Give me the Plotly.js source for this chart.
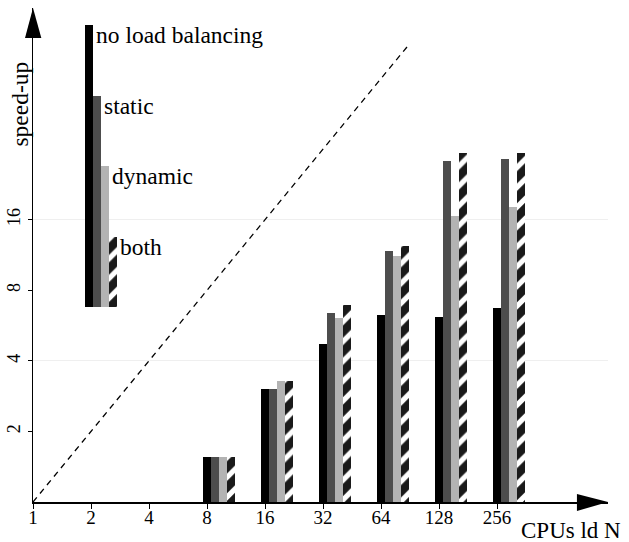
<!DOCTYPE html>
<html>
<head>
<meta charset="utf-8">
<script src="https://cdn.plot.ly/plotly-3.0.1.min.js"></script>
<style>
html,body{margin:0;padding:0;background:#fff;}
#chart{width:629px;height:542px;}
</style>
</head>
<body>
<div id="chart"></div>
<script>
// ---- data ----
const cpus = [8, 16, 32, 64, 128, 256];
const noLoadBalancing = [1.55, 3.04, 4.72, 6.29, 6.17, 6.69];
const staticLB = [1.55, 3.02, 6.42, 11.76, 28.4, 29.1];
const dynamicLB = [1.55, 3.29, 6.12, 11.23, 16.6, 18.2];
const bothLB = [1.55, 3.29, 6.94, 12.35, 30.95, 30.95];
const seriesNames = ['no load balancing', 'static', 'dynamic', 'both'];
const legendTops = [108, 54, 27, 13.5];
const legendBase = 6.8;
const tickValues = [1, 2, 4, 8, 16, 32, 64, 128, 256];
const yTickValues = [2, 4, 8, 16];
const yGridValues = [4, 16];
const idealN = [1, 88];
const idealSpeedup = [1, 88];

// ---- styling / layout helpers ----
const FONT = 'Liberation Serif';
const colors = ['#000000', '#4d4d4d', '#b3b3b3', '#ffffff'];
const barW = 0.138;
const offsets = [-0.069, 0.069, 0.207, 0.345];
const legendX = 0.972;
const seriesData = [noLoadBalancing, staticLB, dynamicLB, bothLB];
const log2 = v => Math.log2(v);

const traces = [];
seriesData.forEach((vals, i) => {
  const marker = {color: colors[i], line: {width: 0}};
  if (i === 3) {
    marker.pattern = {shape: '/', fgcolor: '#1a1a1a', bgcolor: '#ffffff', size: 14, solidity: 0.62};
  }
  traces.push({
    type: 'bar', name: seriesNames[i],
    x: cpus.map(log2), y: vals,
    width: barW, offset: offsets[i],
    marker: marker, showlegend: false, hoverinfo: 'skip'
  });
  // in-plot legend bar (base + length so its top sits at legendTops[i])
  traces.push({
    type: 'bar', name: seriesNames[i] + ' key',
    x: [legendX], y: [legendTops[i] - legendBase], base: [legendBase],
    width: barW, offset: offsets[i],
    marker: JSON.parse(JSON.stringify(marker)), showlegend: false, hoverinfo: 'skip'
  });
});

traces.push({
  type: 'scatter', mode: 'lines',
  x: idealN.map(log2), y: idealSpeedup,
  line: {color: '#000', width: 1.3, dash: '6px,5px'},
  showlegend: false, hoverinfo: 'skip'
});

// invisible trace on yaxis2 for the faint grid
traces.push({type: 'scatter', mode: 'markers', x: [0], y: [1], yaxis: 'y2',
  marker: {opacity: 0}, showlegend: false, hoverinfo: 'skip'});

const annotations = seriesNames.map((n, i) => ({
  text: n, xref: 'x', yref: 'y',
  x: legendX + offsets[i] + barW, y: Math.log10(legendTops[i]),
  xanchor: 'left', yanchor: 'top', yshift: 5, xshift: 1, showarrow: false,
  font: {family: FONT, size: 23.5, color: '#000'}
}));
annotations.push({
  text: 'CPUs ld N', xref: 'paper', yref: 'paper', x: 1.026, y: -0.058,
  xanchor: 'right', yanchor: 'middle', showarrow: false,
  font: {family: FONT, size: 23, color: '#000'}
});
annotations.push({
  text: 'speed-up', xref: 'paper', yref: 'paper', x: -0.023, y: 0.806,
  xanchor: 'center', yanchor: 'middle', textangle: -90, showarrow: false,
  font: {family: FONT, size: 23.5, color: '#000'}
});

const yRange = [0, 7 * Math.log10(2)];
const layout = {
  width: 629, height: 542,
  margin: {l: 33, r: 21, t: 8, b: 40},
  paper_bgcolor: '#fff', plot_bgcolor: 'rgba(0,0,0,0)',
  barmode: 'overlay', bargap: 0,
  showlegend: false,
  font: {family: FONT, color: '#000'},
  xaxis: {
    type: 'linear', range: [0, 575 / 58],
    tickvals: tickValues.map(log2), ticktext: tickValues.map(String),
    ticks: 'outside', ticklen: 5, tickwidth: 1, tickcolor: '#000',
    ticklabelstandoff: -7,
    showline: true, linecolor: '#000', linewidth: 1.5,
    showgrid: false, zeroline: false,
    tickfont: {family: FONT, size: 19, color: '#000'}
  },
  yaxis: {
    type: 'log', range: yRange,
    tickvals: yTickValues, ticktext: yTickValues.map(String),
    ticks: 'outside', ticklen: 4, tickwidth: 1, tickcolor: '#000',
    tickangle: -90,
    showline: true, linecolor: '#000', linewidth: 1.5,
    showgrid: false, zeroline: false,
    tickfont: {family: FONT, size: 18, color: '#000'}
  },
  yaxis2: {
    type: 'log', range: yRange, overlaying: 'y',
    tickvals: yGridValues, showticklabels: false, ticks: '',
    showgrid: true, gridcolor: '#efefef', gridwidth: 1,
    showline: false, zeroline: false, layer: 'below traces'
  },
  shapes: [
    {type: 'path', xref: 'paper', yref: 'paper',
     path: 'M -0.0139 0.9393 L 0 1 L 0.0145 0.9393 Z',
     fillcolor: '#000', line: {width: 0}},
    {type: 'path', xref: 'paper', yref: 'paper',
     path: 'M 0.946 0.0162 L 1 0 L 0.946 -0.0182 Z',
     fillcolor: '#000', line: {width: 0}}
  ],
  annotations: annotations
};

Plotly.newPlot('chart', traces, layout, {staticPlot: true, displayModeBar: false});
</script>
</body>
</html>
